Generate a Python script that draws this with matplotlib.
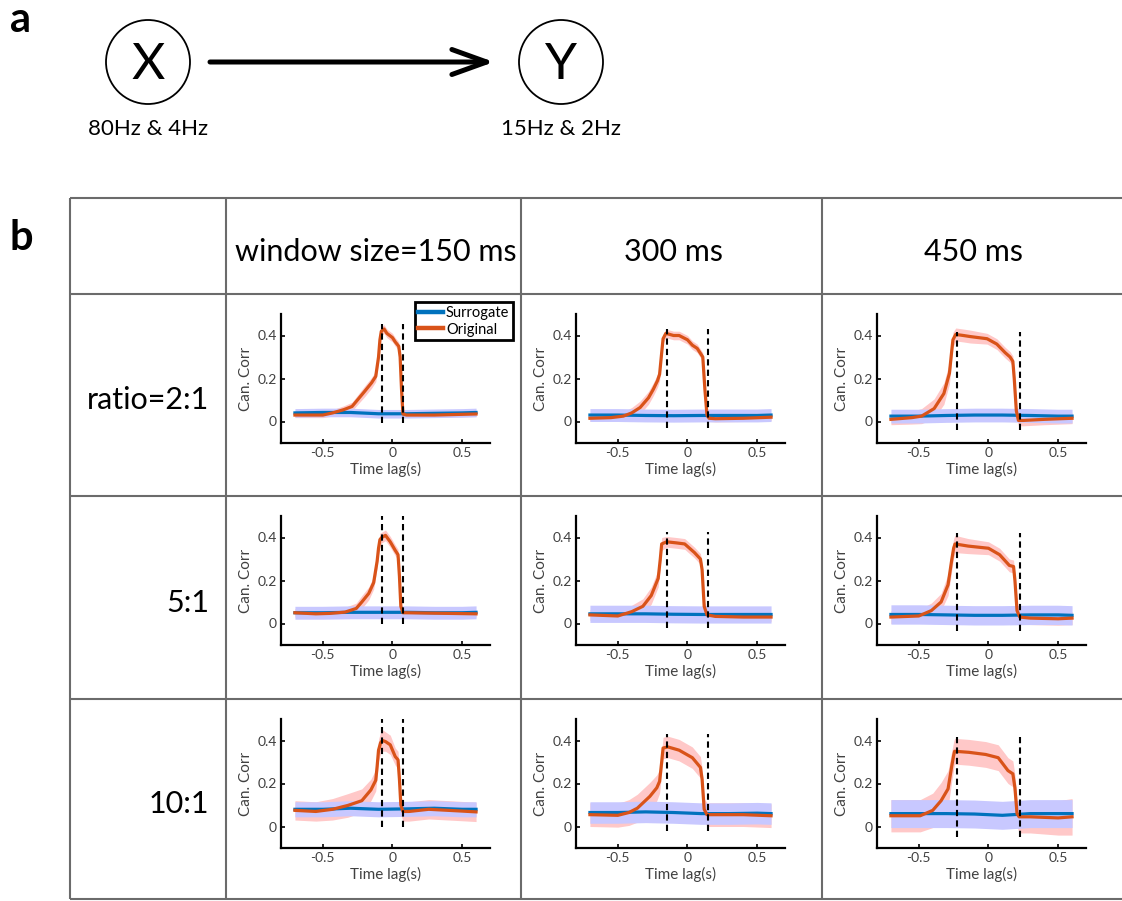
import matplotlib
matplotlib.use('Agg')
import matplotlib.pyplot as plt
from matplotlib.patches import Circle
import numpy as np

plt.rcParams['font.family'] = ['Lato', 'DejaVu Sans']
plt.rcParams['axes.unicode_minus'] = False

# ---------------- data ----------------
window_labels = ['window size=150 ms', '300 ms', '450 ms']
window_half = [0.075, 0.15, 0.225]          # half window (s) -> dashed markers
ratio_labels = ['ratio=2:1', '5:1', '10:1']
node_names = ['X', 'Y']
node_freqs = ['80Hz & 4Hz', '15Hz & 2Hz']
legend_labels = ['Surrogate', 'Original']
x_ticks = [-0.5, 0, 0.5]
x_ticklabels = ['-0.5', '0', '0.5']
y_ticks = [0, 0.2, 0.4]
y_ticklabels = ['0', '0.2', '0.4']

# Original (orange) curves, panel order: row-major (ratio rows, window cols)
orig_x = [
    [-0.7,-0.5,-0.43,-0.35,-0.29,-0.2,-0.15,-0.12,-0.1,-0.09,-0.08,-0.06,-0.04,-0.02,0.0,0.02,0.045,0.055,0.065,0.075,0.1,0.3,0.6],
    [-0.7,-0.55,-0.46,-0.4,-0.34,-0.28,-0.245,-0.215,-0.2,-0.185,-0.175,-0.155,-0.1,-0.06,0.0,0.035,0.07,0.095,0.11,0.125,0.14,0.155,0.2,0.4,0.6],
    [-0.7,-0.55,-0.48,-0.39,-0.32,-0.28,-0.265,-0.255,-0.235,-0.18,-0.13,-0.01,0.06,0.12,0.155,0.175,0.185,0.2,0.215,0.25,0.4,0.6],
    [-0.7,-0.55,-0.45,-0.34,-0.26,-0.22,-0.17,-0.135,-0.11,-0.1,-0.09,-0.077,-0.05,-0.016,0.02,0.04,0.05,0.06,0.075,0.1,0.3,0.6],
    [-0.7,-0.5,-0.4,-0.32,-0.26,-0.21,-0.195,-0.185,-0.15,-0.08,-0.02,0.05,0.093,0.105,0.12,0.14,0.2,0.4,0.6],
    [-0.7,-0.5,-0.41,-0.34,-0.29,-0.265,-0.25,-0.24,-0.145,0.0,0.08,0.15,0.18,0.19,0.205,0.225,0.3,0.5,0.6],
    [-0.7,-0.55,-0.43,-0.32,-0.22,-0.155,-0.12,-0.11,-0.1,-0.085,-0.072,-0.05,-0.016,0.02,0.04,0.05,0.06,0.075,0.12,0.26,0.49,0.6],
    [-0.7,-0.5,-0.42,-0.36,-0.27,-0.22,-0.2,-0.185,-0.175,-0.14,-0.06,0.035,0.093,0.105,0.12,0.14,0.2,0.4,0.6],
    [-0.7,-0.49,-0.4,-0.34,-0.29,-0.265,-0.25,-0.243,-0.14,-0.02,0.07,0.14,0.175,0.19,0.205,0.22,0.3,0.5,0.6],
]
orig_y = [
    [0.03,0.03,0.04,0.055,0.07,0.14,0.18,0.21,0.30,0.38,0.42,0.43,0.41,0.40,0.39,0.37,0.35,0.30,0.15,0.035,0.03,0.03,0.035],
    [0.015,0.018,0.025,0.04,0.065,0.11,0.15,0.19,0.22,0.32,0.385,0.41,0.40,0.40,0.38,0.355,0.34,0.315,0.30,0.15,0.03,0.015,0.013,0.015,0.02],
    [0.01,0.018,0.025,0.06,0.13,0.225,0.32,0.38,0.405,0.40,0.395,0.385,0.36,0.32,0.30,0.28,0.20,0.05,0.005,0.005,0.01,0.015],
    [0.05,0.045,0.047,0.053,0.07,0.10,0.14,0.19,0.29,0.35,0.39,0.40,0.41,0.38,0.34,0.32,0.22,0.08,0.05,0.05,0.048,0.045],
    [0.04,0.035,0.055,0.08,0.13,0.21,0.30,0.37,0.38,0.375,0.37,0.33,0.30,0.25,0.08,0.04,0.033,0.03,0.03],
    [0.03,0.035,0.06,0.10,0.18,0.29,0.35,0.37,0.36,0.35,0.32,0.27,0.265,0.20,0.06,0.03,0.025,0.022,0.025],
    [0.075,0.07,0.08,0.098,0.12,0.17,0.215,0.28,0.355,0.39,0.40,0.395,0.38,0.325,0.31,0.22,0.10,0.07,0.07,0.08,0.072,0.068],
    [0.055,0.052,0.065,0.085,0.14,0.18,0.21,0.30,0.365,0.37,0.355,0.32,0.275,0.22,0.08,0.055,0.055,0.055,0.05],
    [0.05,0.05,0.075,0.12,0.175,0.275,0.33,0.35,0.345,0.335,0.32,0.26,0.245,0.18,0.06,0.045,0.045,0.04,0.045],
]
orig_hw = [
    [0.012,0.012,0.015,0.018,0.02,0.025,0.025,0.025,0.025,0.025,0.022,0.02,0.02,0.02,0.02,0.02,0.02,0.02,0.02,0.012,0.01,0.01,0.012],
    [0.015,0.015,0.02,0.025,0.03,0.03,0.03,0.03,0.03,0.025,0.02,0.02,0.02,0.02,0.02,0.02,0.02,0.02,0.02,0.02,0.015,0.015,0.015,0.015,0.015],
    [0.025,0.03,0.035,0.045,0.05,0.05,0.04,0.035,0.03,0.03,0.03,0.025,0.025,0.025,0.025,0.025,0.025,0.025,0.025,0.025,0.025,0.025],
    [0.02,0.02,0.02,0.022,0.025,0.03,0.03,0.03,0.03,0.03,0.03,0.025,0.025,0.025,0.025,0.025,0.025,0.02,0.015,0.015,0.015,0.015],
    [0.025,0.025,0.03,0.035,0.04,0.04,0.035,0.03,0.025,0.025,0.025,0.025,0.025,0.025,0.025,0.025,0.02,0.02,0.02],
    [0.03,0.03,0.035,0.04,0.05,0.05,0.045,0.04,0.035,0.03,0.03,0.03,0.03,0.03,0.03,0.03,0.03,0.03,0.03],
    [0.045,0.045,0.05,0.055,0.055,0.05,0.05,0.05,0.05,0.05,0.05,0.045,0.045,0.04,0.04,0.04,0.045,0.045,0.045,0.045,0.045,0.045],
    [0.055,0.055,0.06,0.065,0.065,0.06,0.055,0.05,0.05,0.05,0.05,0.05,0.05,0.05,0.05,0.055,0.055,0.055,0.055],
    [0.075,0.075,0.08,0.085,0.085,0.07,0.065,0.06,0.06,0.06,0.06,0.06,0.06,0.06,0.06,0.075,0.075,0.08,0.085],
]
# Surrogate (blue) curves
surr_x = [-0.7, -0.5, -0.3, -0.1, 0.1, 0.3, 0.5, 0.6]
surr_y = [
    [0.04,0.042,0.042,0.036,0.036,0.038,0.04,0.042],
    [0.03,0.03,0.028,0.027,0.028,0.028,0.028,0.03],
    [0.025,0.025,0.028,0.03,0.03,0.028,0.025,0.025],
    [0.05,0.05,0.052,0.052,0.052,0.05,0.05,0.052],
    [0.045,0.045,0.045,0.043,0.042,0.042,0.042,0.042],
    [0.042,0.042,0.04,0.038,0.038,0.04,0.04,0.038],
    [0.08,0.08,0.085,0.08,0.082,0.085,0.08,0.08],
    [0.065,0.065,0.068,0.065,0.06,0.06,0.062,0.06],
    [0.06,0.06,0.06,0.058,0.052,0.06,0.06,0.06],
]
surr_hw = [0.02, 0.03, 0.032, 0.03, 0.04, 0.045, 0.035, 0.05, 0.065]
# vertical extent of the dashed window markers
dash_lo = [-0.005, -0.03, -0.04, 0.0, -0.02, -0.035, 0.0, -0.02, -0.05]
dash_hi = [0.455, 0.43, 0.415, 0.5, 0.425, 0.42, 0.5, 0.43, 0.415]

# ---------------- layout ----------------
W, H = 1122, 901
fig = plt.figure(figsize=(W / 100, H / 100), dpi=100)

ov = fig.add_axes([0, 0, 1, 1])
ov.set_xlim(0, W)
ov.set_ylim(H, 0)
ov.axis('off')

# panel letters
ov.text(10, 32, 'a', fontsize=30, fontweight='bold', ha='left', va='baseline')
ov.text(10, 250, 'b', fontsize=30, fontweight='bold', ha='left', va='baseline')

# panel a: nodes and arrow
node_cx = [148, 561]
for cx, name, fr in zip(node_cx, node_names, node_freqs):
    ov.add_patch(Circle((cx, 62), 42, fill=False, ec='k', lw=1.3))
    ov.text(cx, 79, name, fontsize=37, ha='center', va='baseline')
    ov.text(cx, 135, fr, fontsize=16, ha='center', va='baseline')
ov.annotate('', xy=(494, 62), xytext=(210, 62),
            arrowprops=dict(arrowstyle='->,head_length=1.25,head_width=0.45',
                            lw=3.6, color='k', shrinkA=0, shrinkB=0,
                            mutation_scale=20))

# table grid
COL_X = [70, 226, 521, 822, 1122]
ROW_Y = [198, 294, 496, 699, 899]
GRID = '#6b6b6b'
for yy in ROW_Y:
    ov.plot([COL_X[0], COL_X[-1]], [yy, yy], color=GRID, lw=1.5, solid_capstyle='butt')
for xx in COL_X[:-1]:
    ov.plot([xx, xx], [ROW_Y[0], ROW_Y[-1]], color=GRID, lw=1.5, solid_capstyle='butt')

for c, lab in enumerate(window_labels):
    ov.text((COL_X[c + 1] + COL_X[c + 2]) / 2 + 2, 261, lab, fontsize=22,
            ha='center', va='baseline')
for r, lab in enumerate(ratio_labels):
    yc = (ROW_Y[r + 1] + ROW_Y[r + 2]) / 2
    ov.text(209, yc + 14, lab, fontsize=22, ha='right', va='baseline')

# sub-plots
ORANGE = '#D95319'
BLUE = '#0072BD'
PINK = '#ffc8c8'
LAV = '#c8c8ff'
LBL = '#404040'
for r in range(3):
    for c in range(3):
        k = r * 3 + c
        left = COL_X[c + 1] + 55
        top = ROW_Y[r + 1] + 20
        ax = fig.add_axes([left / W, 1 - (top + 129) / H, 209 / W, 129 / H])
        ox = np.array(orig_x[k]); oy = np.array(orig_y[k]); ohw = np.array(orig_hw[k])
        sx = np.array(surr_x); sy = np.array(surr_y[k])
        ax.fill_between(ox, oy - ohw, oy + ohw, color=PINK, lw=0, zorder=1)
        ax.fill_between(sx, sy - surr_hw[k], sy + surr_hw[k], color=LAV, lw=0, zorder=2)
        lb, = ax.plot(sx, sy, color=BLUE, lw=2.3, zorder=3)
        lo, = ax.plot(ox, oy, color=ORANGE, lw=2.3, zorder=4, solid_joinstyle='round')
        for xv in (-window_half[c], window_half[c]):
            ax.plot([xv, xv], [dash_lo[k], dash_hi[k]], color='k', lw=1.5,
                    ls=(0, (3, 2)), zorder=5)
        ax.set_xlim(-0.8, 0.7)
        ax.set_ylim(-0.1, 0.5)
        for s in ('top', 'right'):
            ax.spines[s].set_visible(False)
        for s in ('left', 'bottom'):
            ax.spines[s].set_linewidth(1.6)
            ax.spines[s].set_color('k')
        ax.set_xticks(x_ticks)
        ax.set_xticklabels(x_ticklabels)
        ax.set_yticks(y_ticks)
        ax.set_yticklabels(y_ticklabels)
        ax.tick_params(direction='in', length=3, width=1.2, color='k',
                       labelcolor=LBL, labelsize=10, pad=3)
        ax.set_xlabel('Time lag(s)', fontsize=11, color=LBL, labelpad=2)
        ax.set_ylabel('Can. Corr', fontsize=11, color=LBL, labelpad=3)
        ax.patch.set_alpha(0)
        if k == 0:
            leg = ax.legend([lb, lo], legend_labels, loc='upper right',
                            bbox_to_anchor=(1.11, 1.093), fontsize=10.5,
                            frameon=True, fancybox=False, edgecolor='k',
                            framealpha=1, borderpad=0.25, handlelength=1.7,
                            handletextpad=0.2, labelspacing=0.2,
                            borderaxespad=0)
            leg.get_frame().set_linewidth(2)
            for h in leg.get_lines():
                h.set_linewidth(3.2)

fig.savefig('out.png', dpi=100)
